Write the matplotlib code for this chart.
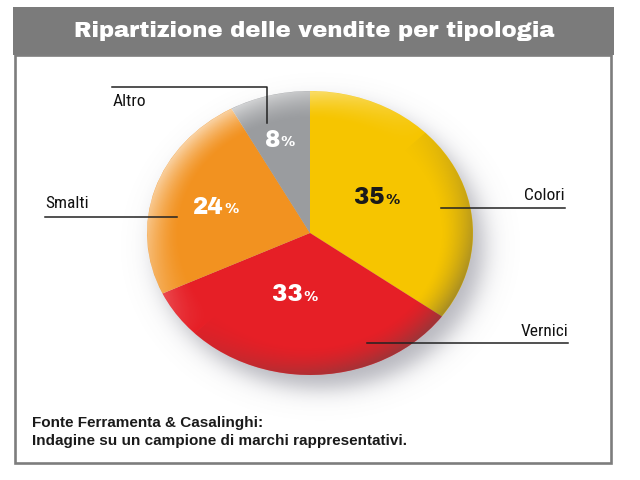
import numpy as np
import matplotlib
matplotlib.use("Agg")
import matplotlib.pyplot as plt
from matplotlib.patches import Rectangle, Circle

# ---- data ----
categories = ["Colori", "Vernici", "Smalti", "Altro"]
values = [35, 33, 24, 8]
title = "Ripartizione delle vendite per tipologia"
footer = ["Fonte Ferramenta & Casalinghi:",
          "Indagine su un campione di marchi rappresentativi."]

# ---- style ----
colors = ["#F6C500", "#E61F26", "#F29220", "#9A9C9F"]
pct_colors = ["#1a1a1a", "white", "white", "white"]
pct_radius = [0.44, 0.46, 0.65, 0.69]
pct_shift = [7, -12, 2, 5]

NARROW = ["Roboto Condensed", "Archivo Narrow", "DejaVu Sans"]
HEAVY = ["Archivo Black", "Archivo", "DejaVu Sans"]
ARIAL = ["Liberation Sans", "DejaVu Sans"]

W, H = 640, 480
fig = plt.figure(figsize=(W / 100, H / 100), dpi=100)
fig.patch.set_facecolor("white")

bg = fig.add_axes([0, 0, 1, 1])
bg.axis("off")

# title bar and box
bg.add_patch(Rectangle((13, 7), 601, 48, facecolor="#7b7b7b", edgecolor="none"))
bg.add_patch(Rectangle((15, 55), 596, 408, facecolor="none", edgecolor="#7d7d7d", lw=1.9))
bg.text(314, 31, title, color="white", fontsize=16.3, fontweight="black",
        family=HEAVY, ha="center", va="center")

# pie geometry in pixels
cx, cy, a, b = 310, 233, 163, 142

# soft shadow
yy, xx = np.mgrid[60:460, 20:608]
d = np.sqrt(((xx - (cx + 10)) / a) ** 2 + ((yy - (cy + 13)) / b) ** 2)
sdf = (d - 1) * 150
alpha = 0.5 / (1 + np.exp(sdf / 7))
shadow = np.zeros(xx.shape + (4,))
shadow[..., 0] = 0.42
shadow[..., 1] = 0.42
shadow[..., 2] = 0.48
shadow[..., 3] = alpha
bg.imshow(shadow, extent=(20, 608, 460, 60), zorder=0, interpolation="bilinear")
bg.set_xlim(0, W)
bg.set_ylim(H, 0)

# footer
for i, line in enumerate(footer):
    bg.text(32, 423 + i * 18, line, fontsize=11, fontweight="bold", family=ARIAL,
            color="#1a1a1a", ha="left", va="center")

# pie axes
pax = fig.add_axes([(cx - a) / W, (H - (cy + b)) / H, 2 * a / W, 2 * b / H])
wedges, _ = pax.pie(values, colors=colors, startangle=90, counterclock=False,
                    radius=1, wedgeprops=dict(edgecolor="none", linewidth=0))
pax.axis("off")

# rim shading overlay
g = np.linspace(-1, 1, 500)
X, Y = np.meshgrid(g, g)
R = np.sqrt(X ** 2 + Y ** 2) + 1e-9
rim = np.clip((R - 0.80) / 0.20, 0, 1) ** 1.5
lig = (-X + Y) / (np.sqrt(2) * R)
ov = np.zeros(X.shape + (4,))
hi = lig > 0
ov[hi, :3] = 1.0
ov[~hi, :3] = 0.3
ov[..., 3] = np.where(hi, rim * lig * 0.6, rim * (-lig) * 0.4 + rim * 0.08)
im = pax.imshow(ov, extent=(-1, 1, -1, 1), origin="lower", interpolation="bilinear", zorder=5)
clip = Circle((0, 0), 0.999, transform=pax.transData)
im.set_clip_path(clip)
pax.set_aspect("auto")
pax.set_xlim(-1, 1)
pax.set_ylim(-1, 1)

# percentage labels
cum = 0
for i, v in enumerate(values):
    mid = 90 - 360 * (cum + v / 2) / sum(values) + pct_shift[i]
    cum += v
    r = pct_radius[i]
    x, y = r * np.cos(np.radians(mid)), r * np.sin(np.radians(mid))
    t = pax.text(x, y, f"{v}", fontsize=16.5, fontweight="black", family=HEAVY,
                 color=pct_colors[i], ha="center", va="center", zorder=10)
    pax.annotate("%", xy=(1, 0.1), xycoords=t, xytext=(0.3, 0), textcoords="offset points",
                 fontsize=10.5, fontweight="black", family=HEAVY,
                 color=pct_colors[i], ha="left", va="bottom", zorder=10)

# overlay for leader lines and category labels (on top of the pie)
top = fig.add_axes([0, 0, 1, 1])
top.patch.set_alpha(0)
top.axis("off")
top.set_xlim(0, W)
top.set_ylim(H, 0)
lc = "#222222"
lab = dict(family=NARROW, fontsize=12.5, fontweight="normal", va="center", color="#111111")
top.plot([112, 267, 267], [87, 87, 123], color=lc, lw=1.1)
top.text(113, 102, categories[3], ha="left", **lab)
top.plot([45, 177], [217, 217], color=lc, lw=1.1)
top.text(45, 203, categories[2], ha="left", **lab)
top.plot([441, 565], [208, 208], color=lc, lw=1.1)
top.text(565, 195, categories[0], ha="right", **lab)
top.plot([367, 568], [343, 343], color=lc, lw=1.1)
top.text(568, 331, categories[1], ha="right", **lab)

fig.savefig("out.png", dpi=100, facecolor="white")
